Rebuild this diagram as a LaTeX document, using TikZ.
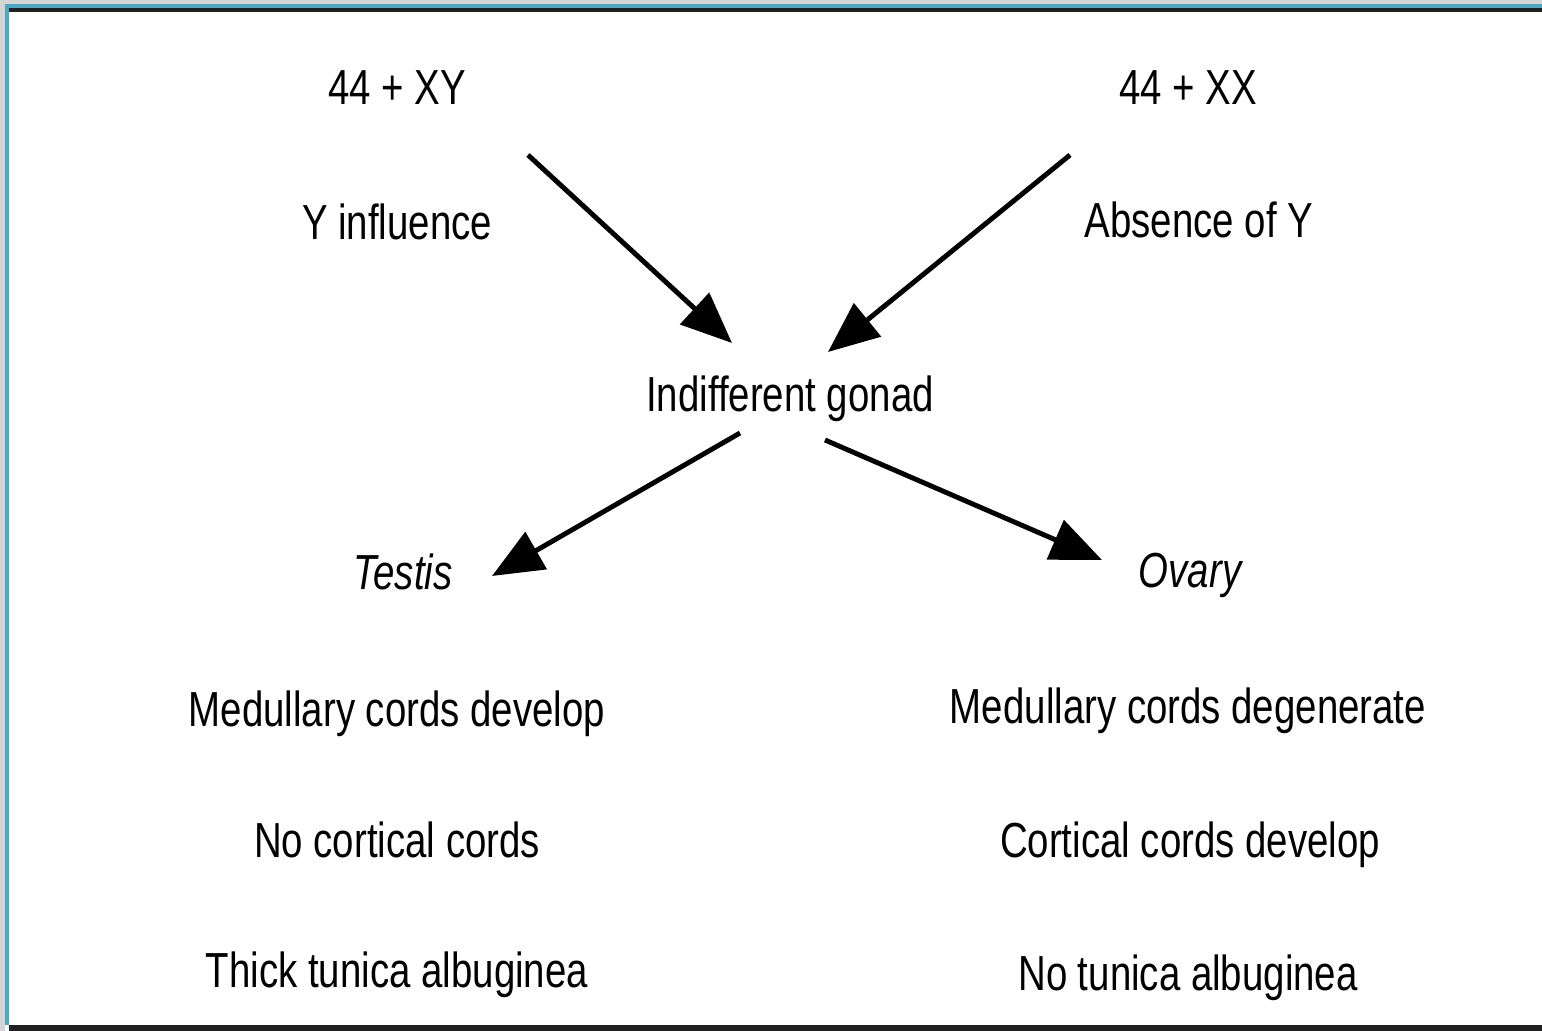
\documentclass[tikz,border=0pt]{standalone}
\usepackage{fontspec}
\setmainfont[FakeStretch=0.78]{Liberation Sans}
\usetikzlibrary{arrows.meta}
\definecolor{framebl}{HTML}{4AA8C0}
\definecolor{framegr}{HTML}{D4D4D4}
\definecolor{framedk}{HTML}{202020}

\begin{document}
\begin{tikzpicture}[x=0.01cm, y=-0.01cm,
		lbl/.style={font=\fontsize{14}{16}\selectfont, inner sep=0pt, anchor=base},
		itl/.style={lbl, font=\fontsize{14}{16}\selectfont\itshape},
		arr/.style={line width=1.4pt, -{Triangle[length=14.5pt, width=12pt]}}]
	\def\lx{397}
	\def\rx{1190}

	\useasboundingbox (0, 0) rectangle (1542, 1031) ;

	% frame
	\fill[white] (0, 0) rectangle (1542, 1031) ;
	\fill[framegr] (0, 0) rectangle (5, 1031) ;
	\fill[framegr] (0, 0) rectangle (1542, 4) ;
	\fill[framebl] (5, 4) rectangle (9, 1025) ;
	\fill[framebl] (5, 4) rectangle (1542, 8) ;
	\fill[framedk] (9, 8) rectangle (1542, 12) ;
	\fill[framedk] (9, 1025) rectangle (1542, 1031) ;

	% male side
	\node[lbl] (xy) at (\lx, 105) {44 + XY} ;
	\node[lbl] (yinf) at (\lx, 240) {Y influence} ;
	\node[itl] (testis) at (403, 590) {Testis} ;
	\node[lbl] (mdev) at (\lx, 727) {Medullary cords develop} ;
	\node[lbl] (nocort) at (\lx, 858) {No cortical cords} ;
	\node[lbl] (thick) at (\lx, 988) {Thick tunica albuginea} ;

	% female side
	\node[lbl] (xx) at (1188, 105) {44 + XX} ;
	\node[lbl] (absy) at (1199, 238) {Absence of Y} ;
	\node[itl] (ovary) at (\rx, 588) {Ovary} ;
	\node[lbl] (mdeg) at (1188, 724) {Medullary cords degenerate} ;
	\node[lbl] (cort) at (\rx, 857) {Cortical cords develop} ;
	\node[lbl] (notun) at (1188, 990) {No tunica albuginea} ;

	\node[lbl] (gonad) at (790, 412) {Indifferent gonad} ;

	% arrow ends
	\coordinate (a1) at (528, 155) ;
	\coordinate (b1) at (732, 343) ;
	\coordinate (a2) at (1070, 155) ;
	\coordinate (b2) at (828, 352) ;
	\coordinate (a3) at (740, 433) ;
	\coordinate (b3) at (492, 576) ;
	\coordinate (a4) at (825, 440) ;
	\coordinate (b4) at (1102, 560) ;

	\draw[arr] (a1) -- (b1) ;
	\draw[arr] (a2) -- (b2) ;
	\draw[arr] (a3) -- (b3) ;
	\draw[arr] (a4) -- (b4) ;
\end{tikzpicture}
\end{document}
